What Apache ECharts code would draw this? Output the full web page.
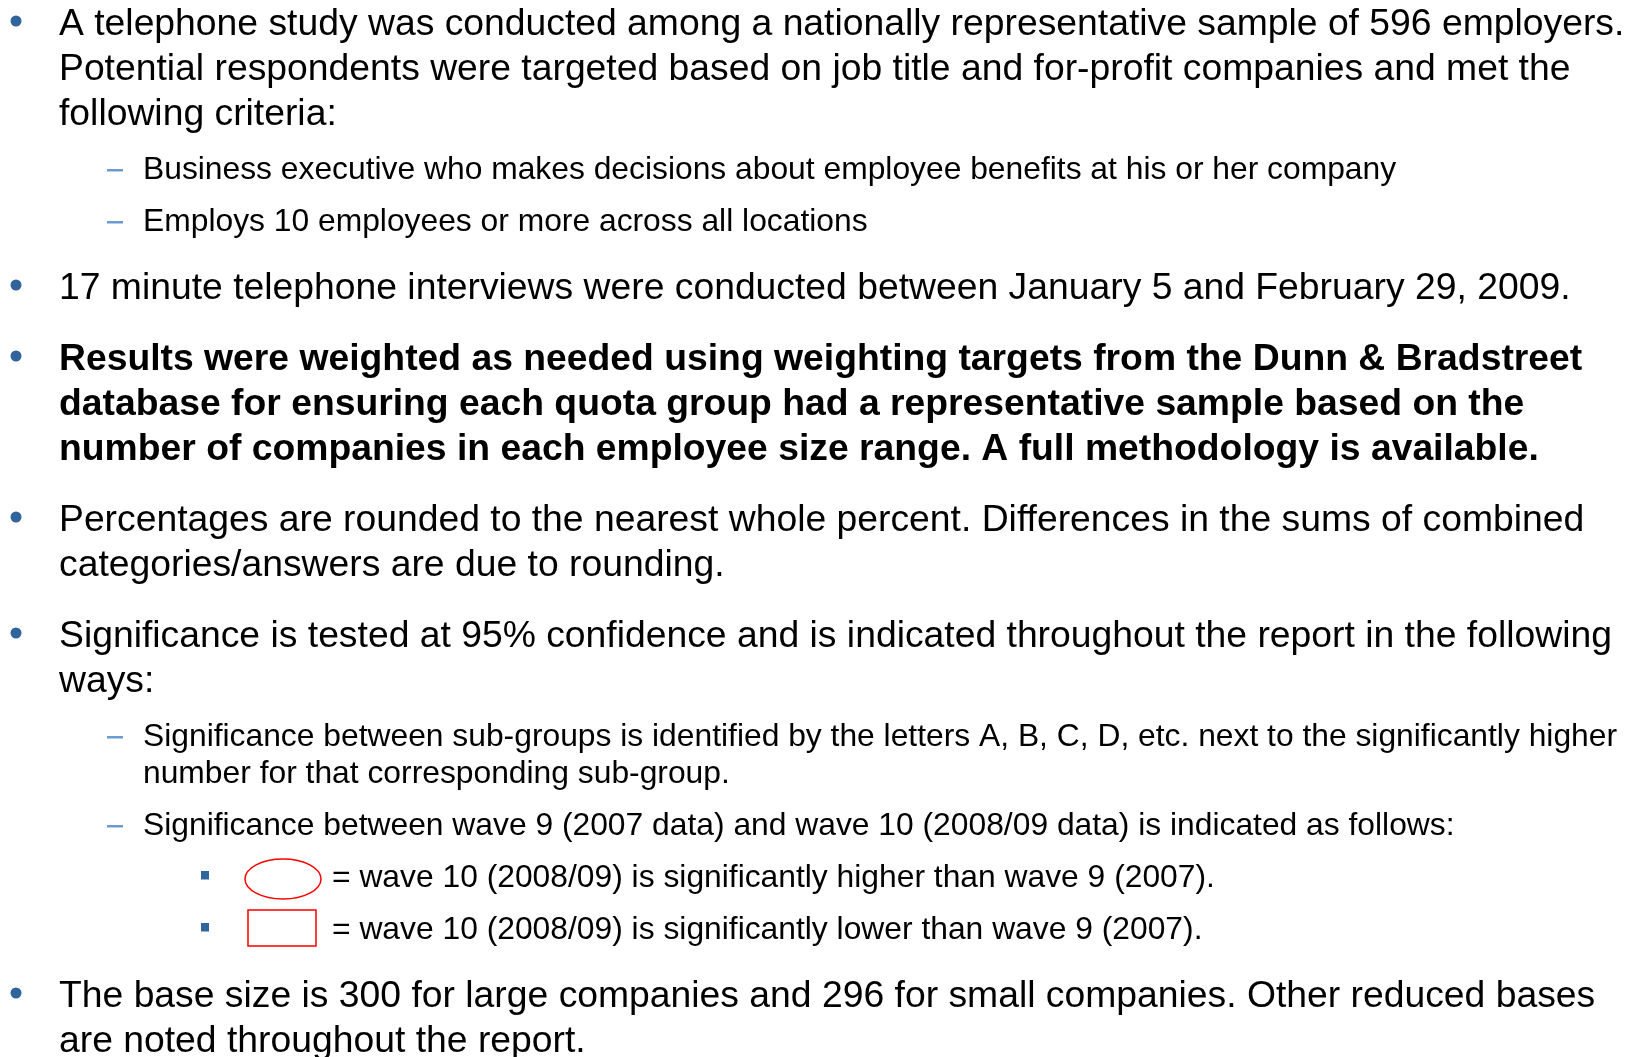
<!DOCTYPE html>
<html>
<head>
<meta charset="utf-8">
<script src="https://cdn.jsdelivr.net/npm/echarts@6/dist/echarts.min.js"></script>
<style>
  html, body { margin: 0; padding: 0; background: #fff; }
  #main { width: 1636px; height: 1057px; }
</style>
</head>
<body>
<div id="main"></div>
<script>
// slide text, one entry per printed line
var rowText = [
  "A telephone study was conducted among a nationally representative sample of 596 employers.",
  "Potential respondents were targeted based on job title and for-profit companies and met the",
  "following criteria:",
  "Business executive who makes decisions about employee benefits at his or her company",
  "Employs 10 employees or more across all locations",
  "17 minute telephone interviews were conducted between January 5 and February 29, 2009.",
  "Results were weighted as needed using weighting targets from the Dunn & Bradstreet",
  "database for ensuring each quota group had a representative sample based on the",
  "number of companies in each employee size range. A full methodology is available.",
  "Percentages are rounded to the nearest whole percent. Differences in the sums of combined",
  "categories/answers are due to rounding.",
  "Significance is tested at 95% confidence and is indicated throughout the report in the following",
  "ways:",
  "Significance between sub-groups is identified by the letters A, B, C, D, etc. next to the significantly higher",
  "number for that corresponding sub-group.",
  "Significance between wave 9 (2007 data) and wave 10 (2008/09 data) is indicated as follows:",
  "= wave 10 (2008/09) is significantly higher than wave 9 (2007).",
  "= wave 10 (2008/09) is significantly lower than wave 9 (2007).",
  "The base size is 300 for large companies and 296 for small companies. Other reduced bases",
  "are noted throughout the report."
];
// bullet = new top-level point, main = wrapped top-level line,
// dash = new second-level point, sub = wrapped second-level line, square = third level
var rowKind = [
  "bullet", "main", "main", "dash", "dash",
  "bullet", "bullet", "main", "main", "bullet",
  "main", "bullet", "main", "dash", "sub",
  "dash", "square", "square", "bullet", "main"
];
var boldRows = [6, 7, 8];
var squareMarks = ["ellipse", "rect"];

var font = '"Liberation Sans", Arial, sans-serif';
var bulletBlue = "#31649b";
var dashBlue = "#6c9bd2";
var markRed = "#ff0000";

function isTop(kind) {
  return kind === "bullet" || kind === "main";
}

function gapBefore(prev, kind) {
  if (kind === "main") return 45;
  if (kind === "sub") return 37;
  if (kind === "bullet") return isTop(prev) ? 71 : 67;
  return isTop(prev) ? 55 : 52;
}

var elements = [];
var y = 23;
var squareIdx = 0;

rowText.forEach(function (t, i) {
  var kind = rowKind[i];
  if (i > 0) y += gapBefore(rowKind[i - 1], kind);

  var x = 59, size = 37.3;
  if (kind === "dash" || kind === "sub") { x = 143; size = 31.8; }
  if (kind === "square") { x = 332; size = 31.8; }

  elements.push({
    type: "text",
    left: x,
    top: y - size / 2 + 2,
    style: {
      text: t,
      fill: "#000",
      font: (boldRows.indexOf(i) >= 0 ? "bold " : "") + size + "px " + font,
      textVerticalAlign: "top"
    }
  });

  if (kind === "bullet") {
    elements.push({
      type: "circle",
      shape: { cx: 16, cy: y - 2, r: 5.5 },
      style: { fill: bulletBlue }
    });
  } else if (kind === "dash") {
    elements.push({
      type: "rect",
      shape: { x: 107, y: y + 1, width: 16, height: 2.5 },
      style: { fill: dashBlue }
    });
  } else if (kind === "square") {
    elements.push({
      type: "rect",
      shape: { x: 201, y: y - 5, width: 8, height: 8.5 },
      style: { fill: bulletBlue }
    });
    if (squareMarks[squareIdx] === "ellipse") {
      elements.push({
        type: "ellipse",
        shape: { cx: 283, cy: y + 3, rx: 38, ry: 20 },
        style: { fill: "none", stroke: markRed, lineWidth: 1.5 }
      });
    } else {
      elements.push({
        type: "rect",
        shape: { x: 248, y: y - 18, width: 68, height: 36 },
        style: { fill: "none", stroke: markRed, lineWidth: 1.5 }
      });
    }
    squareIdx++;
  }
});

var dom = document.getElementById("main");
var myChart = echarts.init(dom, null, { renderer: "canvas" });
myChart.setOption({
  backgroundColor: "#fff",
  animation: false,
  graphic: { elements: elements }
});
window.onresize = function () {
  myChart.resize();
};
</script>
</body>
</html>
